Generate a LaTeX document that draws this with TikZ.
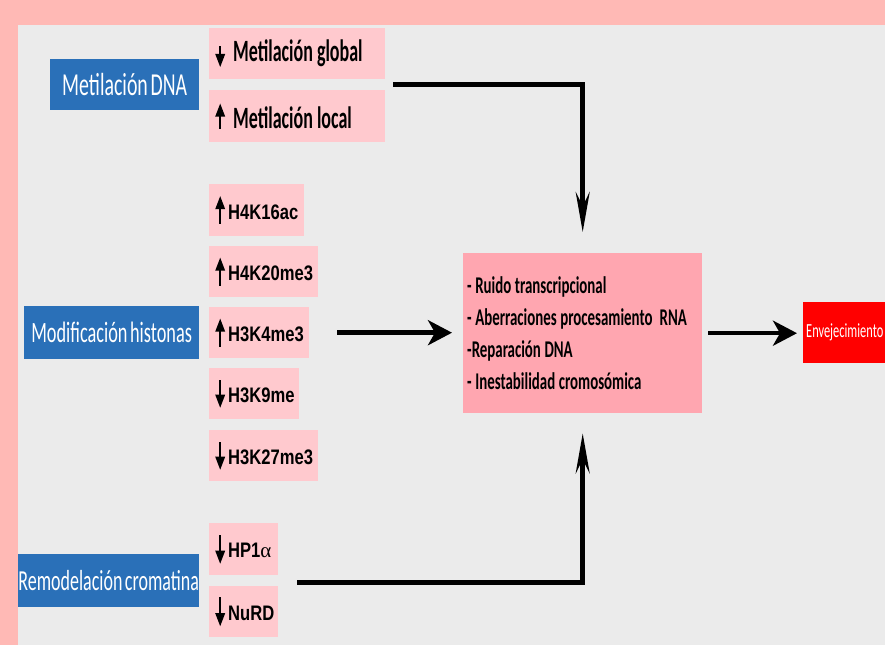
\documentclass[tikz,border=0pt]{standalone}
\usepackage{fontspec}
\setmainfont{Carlito}
\newfontfamily\calnarrow{Carlito}[FakeStretch=0.62,WordSpace=0.62]
\newfontfamily\calnarrower{Carlito}[FakeStretch=0.58,WordSpace=0.58]
\newfontfamily\arialnarrow{Liberation Sans}[FakeStretch=0.79,WordSpace=0.79]
\newfontfamily\greekserif{Liberation Serif}
\usetikzlibrary{arrows.meta,calc}

\definecolor{framepink}{HTML}{FFB9B5}
\definecolor{panelgray}{HTML}{EBEBEB}
\definecolor{markpink}{HTML}{FFC9CE}
\definecolor{effectpink}{HTML}{FFA6B0}
\definecolor{catblue}{HTML}{2A70B8}

% small up / down arrow glyphs: #1 = top above baseline, #2 = depth below it
\newcommand\uparr[2]{\tikz[baseline=0pt,x=1pt,y=1pt]{\fill[black] (-1.1,-#2) rectangle (1.1,#1-11);\fill[black] (-5,#1-13) -- (5,#1-13) -- (0,#1) -- cycle;}}
\newcommand\downarr[2]{\tikz[baseline=0pt,x=1pt,y=1pt]{\fill[black] (-1.1,#1) rectangle (1.1,-#2+11);\fill[black] (-5,-#2+13) -- (5,-#2+13) -- (0,-#2) -- cycle;}}
% fixed interword space for the condensed bold texts
\newcommand\setwordgap[1]{\spaceskip=#1\relax}

\tikzset{
  catbox/.style={fill=catblue, text=white, anchor=north west, inner sep=0pt},
  markbox/.style={fill=markpink, text=black, anchor=north west, inner xsep=6pt, inner ysep=0pt, align=flush left},
  histmark/.style={markbox, font=\arialnarrow\bfseries\fontsize{21}{25}\selectfont},
  methmark/.style={markbox, font=\calnarrower\bfseries\fontsize{31}{36}\selectfont\setwordgap{4.1pt}},
  conn/.style={line width=4.5pt},
  vtip/.style={-{Stealth[length=40pt,width=14pt,inset=14pt]}},
  htip/.style={-{Stealth[length=24pt,width=25pt,inset=7pt]}},
}

\begin{document}
\begin{tikzpicture}[x=1pt,y=-1pt]
\useasboundingbox (0,0) rectangle (885,645);
\clip (0,0) rectangle (885,645);

% frame and panel
\fill[framepink] (0,0) rectangle (885,645);
\fill[panelgray] (18,25) rectangle (885,645);

% categories
\node[catbox, minimum width=149pt, minimum height=51pt, font=\calnarrow\fontsize{32}{36}\selectfont] (dna) at (50,59) {Metilación DNA};
\node[catbox, minimum width=175pt, minimum height=53pt, font=\calnarrow\fontsize{29.5}{34}\selectfont] (histo) at (24,306) {Modificación histonas};
\node[catbox, minimum width=181pt, minimum height=53pt, font=\calnarrow\fontsize{29}{34}\selectfont] (remo) at (18,554) {Remodelación cromatina};

% DNA methylation marks
\node[methmark, text width=164pt, minimum height=51pt] (mg) at (209,28) {\mbox{\downarr{16}{5}\hspace{8pt}Metilación global}};
\node[methmark, text width=164pt, minimum height=52pt] (ml) at (209,90) {\mbox{\uparr{25}{0}\hspace{8pt}Metilación local}};

% histone marks
\node[histmark, text width=83pt, minimum height=52pt] (h4k16) at (209,184) {\mbox{\uparr{23}{5}\hspace{3pt}H4K16ac}};
\node[histmark, text width=97pt, minimum height=51pt] (h4k20) at (209,246) {\mbox{\uparr{23}{5}\hspace{3pt}H4K20me3}};
\node[histmark, text width=88pt, minimum height=51pt] (h3k4) at (209,307) {\mbox{\uparr{23}{5}\hspace{3pt}H3K4me3}};
\node[histmark, text width=78pt, minimum height=51pt] (h3k9) at (209,368) {\mbox{\downarr{23}{5}\hspace{3pt}H3K9me}};
\node[histmark, text width=97pt, minimum height=51pt] (h3k27) at (209,430) {\mbox{\downarr{23}{5}\hspace{3pt}H3K27me3}};

% chromatin remodelling marks
\node[histmark, text width=57pt, minimum height=52pt] (hp) at (209,523) {\mbox{\downarr{23}{6}\hspace{3pt}HP1{\greekserif\mdseries α}}};
\node[histmark, text width=57pt, minimum height=51pt] (nurd) at (209,586) {\mbox{\downarr{23}{6}\hspace{3pt}NuRD}};

% effects
\node[fill=effectpink, anchor=north west, minimum height=160pt, text width=231pt, inner xsep=4pt, inner ysep=0pt, align=flush left, font=\calnarrow\bfseries\fontsize{24}{32}\selectfont\setwordgap{3.6pt}] (eff) at (463,253)
  {- Ruido transcripcional\\- Aberraciones procesamiento\ \ RNA\\-Reparación DNA\\- Inestabilidad cromosómica};

% outcome
\node[fill=red, text=white, anchor=north west, minimum height=61pt, text width=94pt, inner xsep=3pt, inner ysep=0pt, align=flush left, font=\calnarrow\fontsize{20}{22}\selectfont] (age) at (803,302) {Envejecimiento};

% connectors
\coordinate (dnaout) at ($(mg.south east)!0.5!(ml.north east)+(8,0)$);
\coordinate (remout) at ($(hp.south east)!0.5!(nurd.north east)+(19,2)$);
\draw[conn,vtip] (dnaout) -| ([yshift=21pt]eff.north);
\draw[conn,htip] ([xshift=28pt]h3k4.east) -- ($(eff.west |- h3k4.east)+(-11,0)$);
\draw[conn,htip] ([xshift=6pt]eff.east) -- ($(age.west |- eff.east)+(-6,0)$);
\draw[conn,vtip] (remout) -| ([yshift=-20pt]eff.south);
\end{tikzpicture}
\end{document}
